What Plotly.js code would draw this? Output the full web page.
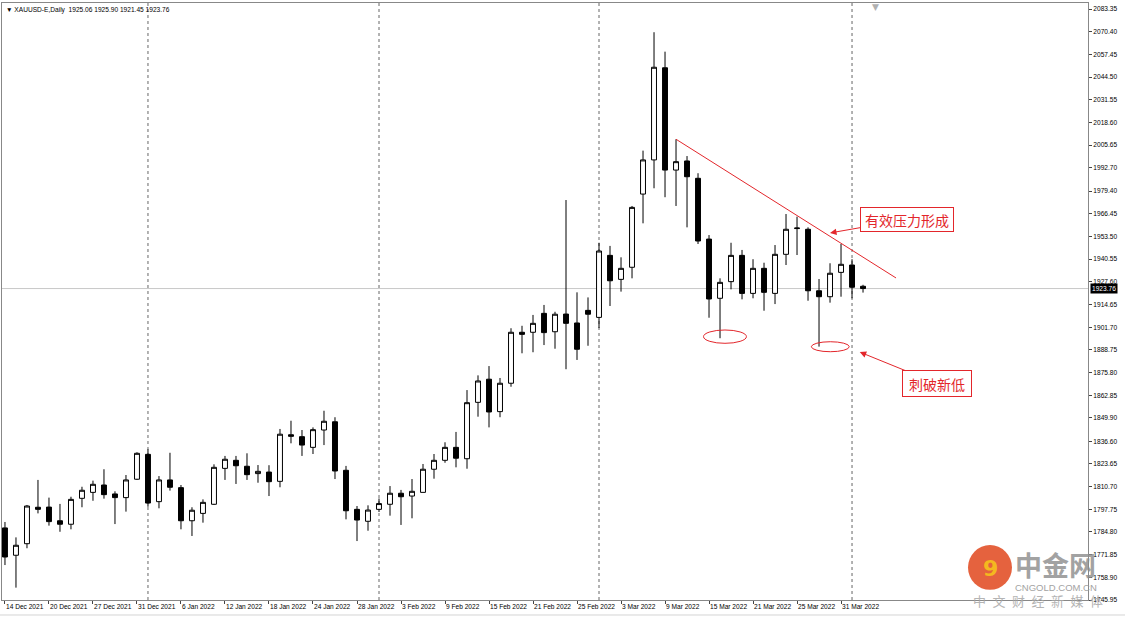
<!DOCTYPE html>
<html>
<head>
<meta charset="utf-8">
<script src="https://cdn.plot.ly/plotly-3.0.1.min.js"></script>
<style>html,body{margin:0;padding:0;background:#fff;}#chart{width:1125px;height:617px;}</style>
</head>
<body>
<div id="chart"></div>
<script>
// ---- data (XAUUSD-E, Daily) ----
const dates = ["2021-12-14","2021-12-15","2021-12-16","2021-12-17","2021-12-20","2021-12-21","2021-12-22","2021-12-23","2021-12-27","2021-12-28","2021-12-29","2021-12-30","2021-12-31","2022-01-03","2022-01-04","2022-01-05","2022-01-06","2022-01-07","2022-01-10","2022-01-11","2022-01-12","2022-01-13","2022-01-14","2022-01-17","2022-01-18","2022-01-19","2022-01-20","2022-01-21","2022-01-24","2022-01-25","2022-01-26","2022-01-27","2022-01-28","2022-01-31","2022-02-01","2022-02-02","2022-02-03","2022-02-04","2022-02-07","2022-02-08","2022-02-09","2022-02-10","2022-02-11","2022-02-14","2022-02-15","2022-02-16","2022-02-17","2022-02-18","2022-02-21","2022-02-22","2022-02-23","2022-02-24","2022-02-25","2022-02-28","2022-03-01","2022-03-02","2022-03-03","2022-03-04","2022-03-07","2022-03-08","2022-03-09","2022-03-10","2022-03-11","2022-03-14","2022-03-15","2022-03-16","2022-03-17","2022-03-18","2022-03-21","2022-03-22","2022-03-23","2022-03-24","2022-03-25","2022-03-28","2022-03-29","2022-03-30","2022-03-31","2022-04-01","2022-04-04"];

const open = [1787.1,1771.5,1778.1,1798.9,1799.0,1791.2,1789.2,1804.0,1807.4,1811.6,
1806.5,1804.4,1814.9,1829.1,1802.1,1814.5,1810.1,1791.2,1795.4,1800.6,
1821.1,1825.7,1822.3,1818.1,1819.0,1813.7,1840.3,1839.2,1833.1,1843.0,
1847.7,1820.0,1797.7,1790.9,1797.7,1800.6,1806.9,1805.3,1807.4,1820.6,
1825.7,1833.1,1826.6,1858.8,1872.0,1853.5,1869.7,1898.8,1898.8,1909.6,
1899.1,1909.2,1904.1,1911.3,1907.3,1942.7,1929.0,1935.9,1977.7,1997.2,
2049.8,1991.4,1996.6,1986.7,1952.0,1918.2,1927.7,1942.7,1921.0,1935.3,
1921.0,1943.3,1958.0,1957.6,1922.5,1919.1,1933.0,1937.2,1925.06];

const high = [1790.5,1781.7,1800.2,1814.5,1804.4,1800.8,1804.9,1810.6,1814.1,1820.6,
1808.0,1817.3,1830.3,1832.0,1816.7,1830.0,1811.6,1798.9,1803.4,1823.4,
1828.2,1828.2,1829.7,1823.0,1822.9,1843.6,1848.3,1843.0,1844.5,1854.0,
1850.3,1822.5,1799.6,1800.0,1803.9,1811.0,1808.8,1815.0,1823.6,1829.3,
1836.0,1841.9,1865.8,1874.2,1879.5,1872.7,1901.1,1902.5,1908.7,1914.4,
1910.5,1974.3,1921.6,1918.7,1949.9,1948.1,1941.6,1970.9,2002.5,2070.1,
2059.0,2009.0,1999.4,1989.6,1954.3,1929.6,1949.9,1945.8,1940.5,1938.5,
1948.6,1966.3,1964.8,1958.7,1929.2,1938.2,1949.2,1940.5,1925.90];

const low = [1765.9,1753.0,1775.5,1795.4,1788.4,1784.9,1786.3,1798.9,1802.6,1803.8,
1789.3,1796.4,1814.5,1799.2,1798.3,1808.4,1786.3,1782.5,1790.1,1800.2,
1814.5,1812.2,1814.5,1812.9,1805.3,1810.3,1835.4,1828.2,1829.3,1834.4,
1815.0,1792.0,1779.6,1785.5,1796.2,1794.1,1788.8,1792.6,1807.4,1815.2,
1824.3,1821.7,1820.9,1850.6,1844.5,1850.3,1867.7,1886.8,1887.4,1891.5,
1889.4,1877.7,1883.0,1891.1,1901.2,1913.8,1922.0,1929.6,1961.0,1981.0,
1975.9,1970.9,1958.7,1949.2,1907.1,1895.4,1923.3,1917.6,1918.2,1911.1,
1914.9,1937.2,1942.9,1916.8,1890.6,1915.7,1919.1,1918.2,1921.45];

const close = [1770.5,1777.2,1799.6,1797.7,1790.7,1789.2,1803.4,1808.6,1812.0,1806.1,
1804.4,1814.5,1829.7,1801.3,1814.5,1810.3,1791.2,1797.2,1801.7,1821.7,
1826.3,1822.6,1817.5,1819.4,1813.5,1840.6,1839.4,1834.4,1843.2,1848.0,
1819.6,1796.9,1791.6,1797.3,1801.0,1806.9,1804.9,1808.0,1820.6,1825.7,
1833.1,1826.9,1858.6,1871.0,1853.3,1869.7,1898.8,1897.6,1903.9,1898.6,
1909.1,1903.9,1889.1,1909.1,1945.2,1928.2,1935.3,1970.1,1997.2,2050.1,
1991.4,1996.2,1987.6,1950.9,1917.8,1927.3,1942.7,1921.0,1935.3,1921.6,
1943.3,1957.6,1958.3,1922.5,1919.1,1932.5,1937.6,1924.5,1923.76];

const tickDates = ["2021-12-14","2021-12-20","2021-12-27","2021-12-31","2022-01-06","2022-01-12","2022-01-18","2022-01-24","2022-01-28","2022-02-03","2022-02-09","2022-02-15","2022-02-21","2022-02-25","2022-03-03","2022-03-09","2022-03-15","2022-03-21","2022-03-25","2022-03-31"];
const tickText = ["14 Dec 2021","20 Dec 2021","27 Dec 2021","31 Dec 2021","6 Jan 2022","12 Jan 2022","18 Jan 2022","24 Jan 2022","28 Jan 2022","3 Feb 2022","9 Feb 2022","15 Feb 2022","21 Feb 2022","25 Feb 2022","3 Mar 2022","9 Mar 2022","15 Mar 2022","21 Mar 2022","25 Mar 2022","31 Mar 2022"];

const yTickText = ["2083.35","2070.40","2057.45","2044.50","2031.55","2018.60","2005.65","1992.70","1979.40","1966.45","1953.50","1940.55","1927.60","1914.65","1901.70","1888.75","1875.80","1862.85","1849.90","1836.60","1823.65","1810.70","1797.75","1784.80","1771.85","1758.90","1745.95"];

const separatorDates = ["2022-01-03","2022-02-01","2022-03-01","2022-04-01"];
const symbolTitle = "XAUUSD-E,Daily";
const lastQuote = ["1925.06","1925.90","1921.45","1923.76"];

// resistance trendline: from the 10 Mar high, through the 31 Mar high, extended
const trendStartIdx = 61, trendEndIdx = 81;
const trendEndPrice = 1929.8;
// lows highlighted
const lowMarks = [{x0:63.5,x1:67.4,y0:1892.5,y1:1900.1},{x0:73.3,x1:76.75,y0:1887.7,y1:1893.4}];
const notes = [
  {text:"有效压力形成", x:75.0, y:1955.5, ax:77, ay:-13.5, w:88, h:19},
  {text:"刺破新低", x:77.7, y:1887.5, ax:77.5, ay:31.5, w:64, h:21}
];

const RED = '#e3262b';
const FONT = 'Liberation Sans, Arial, sans-serif';
const CJK = 'Noto Sans CJK SC, sans-serif';

const trace = {
  type:'candlestick', x:dates, open:open, high:high, low:low, close:close,
  increasing:{line:{color:'#000',width:1}, fillcolor:'#ffffff'},
  decreasing:{line:{color:'#000',width:1}, fillcolor:'#000000'},
  whiskerwidth:0, hoverinfo:'skip', showlegend:false
};

const lastIdx = dates.length-1;
const shapes = [];
separatorDates.forEach(d=>{
  shapes.push({type:'line', xref:'x', yref:'paper', x0:dates.indexOf(d), x1:dates.indexOf(d), y0:0, y1:1,
    line:{color:'#666', width:1, dash:'dot'}, layer:'below'});
});
shapes.push({type:'line', xref:'paper', yref:'y', x0:0, x1:1, y0:close[lastIdx], y1:close[lastIdx],
  line:{color:'#c8c8c8', width:1}, layer:'below'});
shapes.push({type:'line', xref:'x', yref:'y', x0:trendStartIdx, y0:high[trendStartIdx], x1:trendEndIdx, y1:trendEndPrice,
  line:{color:RED, width:1}});
lowMarks.forEach(m=>{
  shapes.push({type:'circle', xref:'x', yref:'y', x0:m.x0, x1:m.x1, y0:m.y0, y1:m.y1, line:{color:RED,width:1}});
});
// watermark logo circle
shapes.push({type:'circle', xref:'paper', yref:'paper', x0:0.8895, x1:0.9300, y0:0.017, y1:0.092,
  fillcolor:'#e0461c', line:{width:0}, opacity:0.85});
// bottom window border
shapes.push({type:'line', xref:'paper', yref:'paper', x0:-0.01, x1:1.04, y0:-0.0251, y1:-0.0251, line:{color:'#d4d4d4', width:1}});

const annotations = [];
notes.forEach(n=>{
  annotations.push({text:n.text, xref:'x', yref:'y', x:n.x, y:n.y, ax:n.ax, ay:n.ay, axref:'pixel', ayref:'pixel',
    showarrow:true, arrowhead:2, arrowsize:1.3, arrowwidth:1, arrowcolor:RED,
    font:{family:CJK, size:14, color:RED}, bgcolor:'#fff', bordercolor:RED, borderwidth:1, borderpad:2,
    width:n.w, height:n.h});
});
annotations.push({text:'▼ '+symbolTitle+'&nbsp;&nbsp;'+lastQuote.join(' '), xref:'paper', yref:'paper', x:0, y:1,
  xanchor:'left', yanchor:'top', xshift:2, yshift:-1, showarrow:false, font:{family:FONT, size:6.6, color:'#000'}});
annotations.push({text:'▼', xref:'paper', yref:'paper', x:0.804, y:1, xanchor:'center', yanchor:'top', yshift:3,
  showarrow:false, font:{family:'DejaVu Sans', size:9, color:'#b0b0b0'}});
annotations.push({text:close[lastIdx].toFixed(2), xref:'paper', yref:'y', x:1, y:close[lastIdx], xanchor:'left', xshift:2,
  showarrow:false, bgcolor:'#000', borderpad:1, font:{family:FONT, size:6.6, color:'#fff'}});
// watermark
annotations.push({text:'໑', xref:'paper', yref:'paper', x:0.9098, y:0.054, xanchor:'center', yanchor:'middle',
  showarrow:false, font:{family:'DejaVu Sans', size:1, color:'#f6c21c'}, opacity:0});
annotations.push({text:'9', xref:'paper', yref:'paper', x:0.9098, y:0.052, xanchor:'center', yanchor:'middle',
  showarrow:false, font:{family:'DejaVu Sans', size:22, color:'#f6c21c', weight:'bold'}, opacity:0.9});
annotations.push({text:'中金网', xref:'paper', yref:'paper', x:0.9705, y:0.060, xanchor:'center', yanchor:'middle',
  showarrow:false, font:{family:CJK, size:27, color:'#8c8c8c', weight:'bold'}, opacity:0.8});
annotations.push({text:'CNGOLD.COM.CN', xref:'paper', yref:'paper', x:0.9705, y:0.021, xanchor:'center', yanchor:'middle',
  showarrow:false, font:{family:FONT, size:9.5, color:'#999'}, opacity:0.9});
annotations.push({text:'中\u2002文\u2002财\u2002经\u2002新\u2002媒\u2002体', xref:'paper', yref:'paper', x:0.9535, y:-0.001, xanchor:'center', yanchor:'middle',
  showarrow:false, font:{family:CJK, size:13, color:'#a8a8a8'}, opacity:0.85});

const layout = {
  width:1125, height:617,
  margin:{l:2, r:37, t:3, b:17, pad:0},
  paper_bgcolor:'#fff', plot_bgcolor:'#fff',
  showlegend:false, boxgap:0.36, hovermode:false,
  xaxis:{type:'category', range:[-0.27, 98.45], rangeslider:{visible:false},
    tickmode:'array', tickvals:tickDates, ticktext:tickText, tickangle:0,
    ticks:'outside', ticklen:3, tickcolor:'#444', ticklabelposition:'outside right',
    tickfont:{family:FONT, size:6.6, color:'#000'},
    showgrid:false, zeroline:false, showline:true, linecolor:'#888', linewidth:1, mirror:true, fixedrange:true},
  yaxis:{side:'right', range:[1745.95, 2086.78],
    tickmode:'array', tickvals:yTickText.map(Number), ticktext:yTickText,
    ticks:'outside', ticklen:3, tickcolor:'#444',
    tickfont:{family:FONT, size:6.6, color:'#000'},
    showgrid:false, zeroline:false, showline:true, linecolor:'#888', linewidth:1, mirror:true, fixedrange:true},
  shapes:shapes, annotations:annotations
};

Plotly.newPlot('chart', [trace], layout, {displayModeBar:false, staticPlot:true});
</script>
</body>
</html>
